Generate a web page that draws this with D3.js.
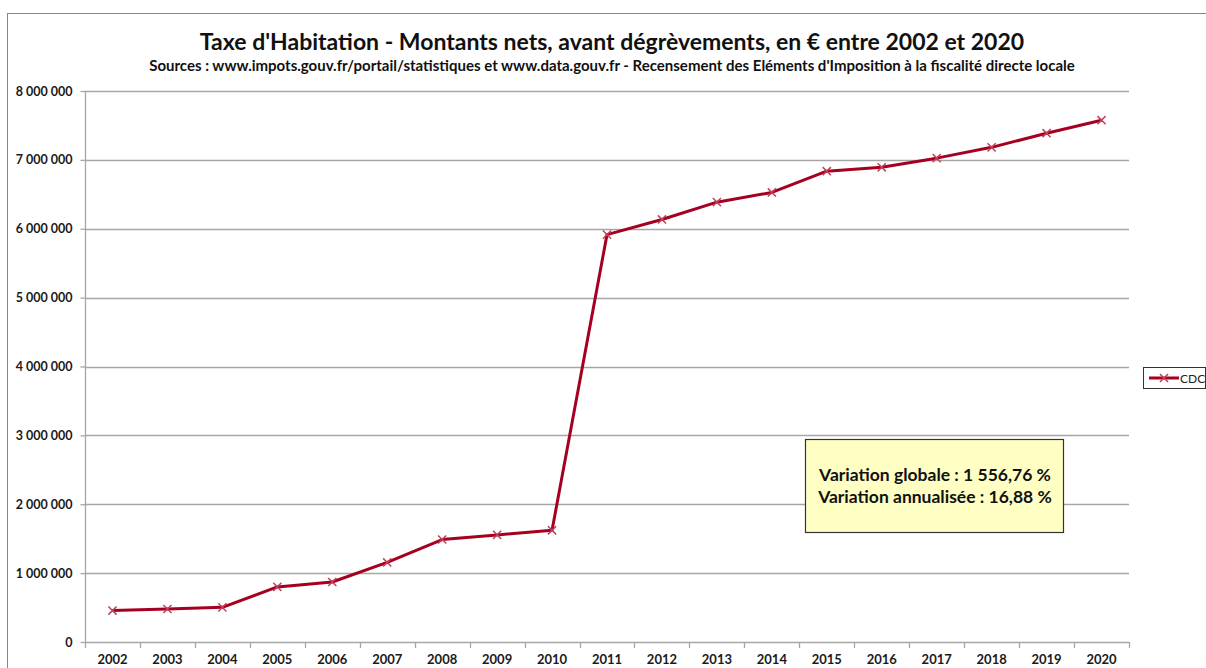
<!DOCTYPE html>
<html>
<head>
<meta charset="utf-8">
<script src="https://cdn.jsdelivr.net/npm/d3@7"></script>
<style>
  body { margin: 0; background: #fff; }
  text { font-family: Lato, "Open Sans", sans-serif; }
</style>
</head>
<body>
<svg id="chart" width="1206" height="668"></svg>
<script>
// data
var years = ["2002","2003","2004","2005","2006","2007","2008","2009","2010","2011",
             "2012","2013","2014","2015","2016","2017","2018","2019","2020"];
var cdc = [457000, 479000, 503000, 800000, 871000, 1155000, 1488000, 1555000, 1622000, 5915000,
           6135000, 6386000, 6527000, 6836000, 6892000, 7025000, 7182000, 7387000, 7576000];
var yTicks = [0, 1000000, 2000000, 3000000, 4000000, 5000000, 6000000, 7000000, 8000000];

var svg = d3.select("#chart");
var pLeft = 85, pRight = 1129, pTop = 91, pBottom = 642;
var red = "#A50021";

// outer frame
svg.append("rect")
  .attr("x", 7.5).attr("y", 13.5)
  .attr("width", 1230).attr("height", 700)
  .attr("fill", "none").attr("stroke", "#868686").attr("stroke-width", 1);

var x = d3.scaleBand().domain(years).range([pLeft, pRight]);
var y = d3.scaleLinear().domain([0, 8000000]).range([pBottom, pTop]);

function fmt(v) {
  return d3.format(",")(v).replace(/,/g, " ");
}

// grid
svg.append("g").selectAll("line")
  .data(yTicks.slice(1))
  .enter().append("line")
  .attr("x1", pLeft).attr("x2", pRight)
  .attr("y1", function(d) { return Math.round(y(d)) + 0.5; })
  .attr("y2", function(d) { return Math.round(y(d)) + 0.5; })
  .attr("stroke", "#a6a6a6").attr("stroke-width", 1.3);

// y axis
var yAxis = svg.append("g")
  .attr("transform", "translate(" + (pLeft + 0.5) + ",0)")
  .call(d3.axisLeft(y).tickValues(yTicks).tickSize(5).tickPadding(8).tickFormat(fmt));
yAxis.selectAll("line, path").attr("stroke", "#a6a6a6").attr("stroke-width", 1.3);
yAxis.select("path").attr("d", "M0," + (pTop + 0.5) + "V" + pBottom);
yAxis.selectAll("text")
  .attr("font-size", "12.5px").attr("font-weight", "bold").attr("fill", "#1a1a1a")
  .style("font-family", "Lato, sans-serif");

// x axis with ticks between categories
var xAxis = svg.append("g")
  .attr("transform", "translate(0," + (pBottom + 0.5) + ")")
  .call(d3.axisBottom(x).tickSize(0).tickPadding(12));
xAxis.select("path").attr("d", "M" + pLeft + ",0H" + pRight).attr("stroke", "#a6a6a6").attr("stroke-width", 1.3);
xAxis.selectAll("text")
  .attr("font-size", "13px").attr("font-weight", "bold").attr("fill", "#1a1a1a")
  .style("font-family", "Lato, sans-serif");
svg.append("g").selectAll("line")
  .data(years.concat(["end"]))
  .enter().append("line")
  .attr("x1", function(d, i) { return Math.round(pLeft + i * x.step()) + 0.5; })
  .attr("x2", function(d, i) { return Math.round(pLeft + i * x.step()) + 0.5; })
  .attr("y1", pBottom).attr("y2", pBottom + 6)
  .attr("stroke", "#a6a6a6").attr("stroke-width", 1.3);

// series
var line = d3.line()
  .x(function(d, i) { return x(years[i]) + x.bandwidth() / 2; })
  .y(function(d) { return y(d); });

svg.append("path")
  .datum(cdc)
  .attr("d", line)
  .attr("fill", "none").attr("stroke", red).attr("stroke-width", 3)
  .attr("stroke-linejoin", "round");

var cross = d3.symbol().type(d3.symbolX).size(45);
svg.append("g").selectAll("path")
  .data(cdc)
  .enter().append("path")
  .attr("d", cross)
  .attr("transform", function(d, i) {
    return "translate(" + (x(years[i]) + x.bandwidth() / 2) + "," + y(d) + ")";
  })
  .attr("fill", "none").attr("stroke", "#c0405a").attr("stroke-width", 1.5);

// titles
svg.append("text")
  .attr("x", 612).attr("y", 50)
  .attr("text-anchor", "middle")
  .attr("font-size", "23px").attr("font-weight", "bold").attr("fill", "#111")
  .text("Taxe d'Habitation - Montants nets, avant dégrèvements, en € entre 2002 et 2020");

svg.append("text")
  .attr("x", 612).attr("y", 71)
  .attr("text-anchor", "middle")
  .attr("font-size", "15px").attr("font-weight", "bold").attr("fill", "#111")
  .text("Sources : www.impots.gouv.fr/portail/statistiques et www.data.gouv.fr - Recensement des Eléments d'Imposition  à la fiscalité directe locale");

// legend
var lg = svg.append("g");
lg.append("rect")
  .attr("x", 1143.5).attr("y", 367.5).attr("width", 62).attr("height", 21)
  .attr("fill", "#fff").attr("stroke", "#333").attr("stroke-width", 1);
lg.append("line")
  .attr("x1", 1149).attr("x2", 1179).attr("y1", 378).attr("y2", 378)
  .attr("stroke", red).attr("stroke-width", 3);
lg.append("path")
  .attr("d", cross)
  .attr("transform", "translate(1164,378)")
  .attr("fill", "none").attr("stroke", "#c0405a").attr("stroke-width", 1.5);
lg.append("text")
  .attr("x", 1180).attr("y", 382.5)
  .attr("font-size", "12px").attr("fill", "#222")
  .text("CDC");

// annotation
var note = svg.append("g");
note.append("rect")
  .attr("x", 805.5).attr("y", 439.5).attr("width", 258).attr("height", 93)
  .attr("fill", "#FFFFC4").attr("stroke", "#333").attr("stroke-width", 1.2);
note.append("text")
  .attr("x", 935).attr("y", 481)
  .attr("text-anchor", "middle")
  .attr("font-size", "17.5px").attr("font-weight", "bold").attr("fill", "#111")
  .text("Variation globale : 1 556,76 %");
note.append("text")
  .attr("x", 935).attr("y", 503)
  .attr("text-anchor", "middle")
  .attr("font-size", "17.5px").attr("font-weight", "bold").attr("fill", "#111")
  .text("Variation annualisée : 16,88 %");
</script>
</body>
</html>
